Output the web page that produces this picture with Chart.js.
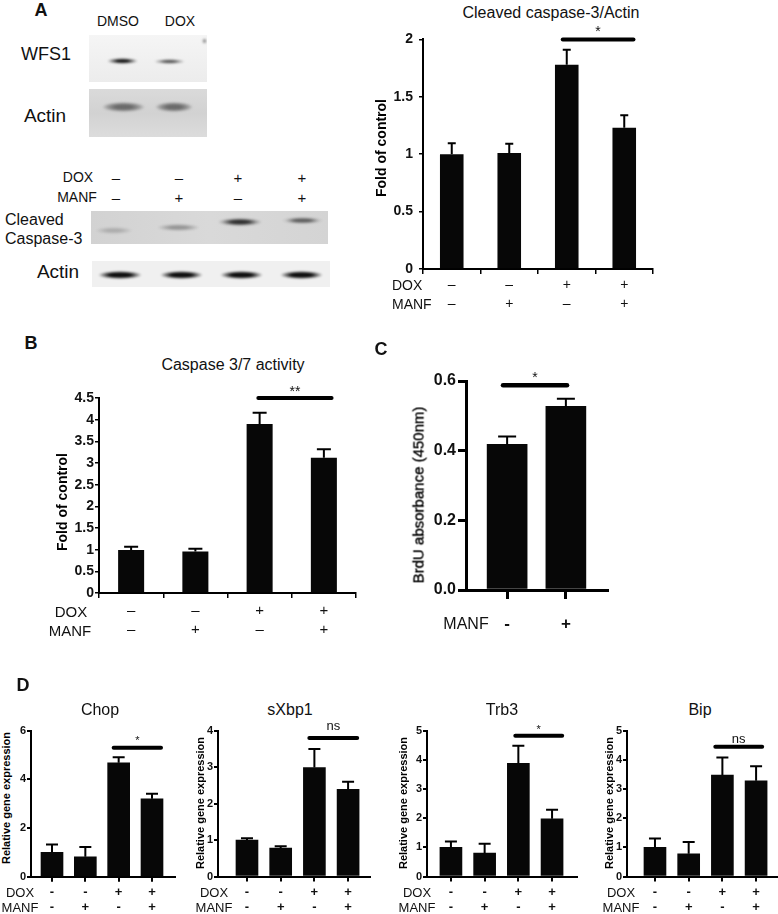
<!DOCTYPE html>
<html>
<head>
<meta charset="utf-8">
<script src="https://cdn.jsdelivr.net/npm/chart.js@4.4.1/dist/chart.umd.min.js"></script>
<style>
  body { margin: 0; background: #fff; width: 778px; height: 914px; position: relative; overflow: hidden;
         font-family: "Liberation Sans", Arial, sans-serif; color: #111; }
  .t { position: absolute; white-space: nowrap; line-height: 1; transform: translate(-50%, -50%); }
  .lt { transform: translate(0, -50%); }
  .v { transform: translate(-50%, -50%) rotate(-90deg); color: #000; }
  .b { font-weight: bold; }
  .thick { -webkit-text-stroke: 0.35px #000; }
  canvas { position: absolute; }
  .blot { position: absolute; overflow: hidden; }
  .band { position: absolute; border-radius: 50%; filter: blur(1.3px); }
</style>
</head>
<body>

<!-- ===== panel A : blots ===== -->
<div class="t b" style="left:41px;top:10px;font-size:18px">A</div>
<div class="t" style="left:118px;top:21px;font-size:14px">DMSO</div>
<div class="t" style="left:180px;top:21px;font-size:14px">DOX</div>
<div class="t" style="left:46px;top:54px;font-size:18px">WFS1</div>
<div class="t" style="left:45px;top:115px;font-size:19px">Actin</div>

<div class="blot" style="left:89px;top:35px;width:118px;height:47px;background:linear-gradient(#f5f5f5,#ececec)">
  <div class="band" style="left:18px;top:23px;width:31px;height:6px;background:radial-gradient(closest-side,#111 35%,rgba(40,40,40,.5) 70%,rgba(0,0,0,0))"></div>
  <div class="band" style="left:65px;top:24px;width:31px;height:5px;background:radial-gradient(closest-side,#555 35%,rgba(80,80,80,.4) 70%,rgba(0,0,0,0))"></div>
  <div class="band" style="left:113px;top:3px;width:5px;height:6px;background:radial-gradient(closest-side,#666,rgba(0,0,0,0))"></div>
</div>
<div class="blot" style="left:89px;top:89px;width:118px;height:48px;background:linear-gradient(#dadada,#d2d2d2 50%,#dcdcdc)">
  <div class="band" style="left:13px;top:13px;width:43px;height:10px;background:radial-gradient(closest-side,#6a6a6a 40%,rgba(100,100,100,.5) 75%,rgba(0,0,0,0))"></div>
  <div class="band" style="left:66px;top:13px;width:38px;height:10px;background:radial-gradient(closest-side,#6a6a6a 40%,rgba(100,100,100,.5) 75%,rgba(0,0,0,0))"></div>
</div>

<div class="t" style="left:78px;top:177px;font-size:14px">DOX</div>
<div class="t" style="left:77px;top:197px;font-size:14px">MANF</div>
<div id="blotSigns"></div>
<div class="t lt" style="left:5px;top:220px;font-size:16px">Cleaved</div>
<div class="t lt" style="left:5px;top:239px;font-size:16px">Caspase-3</div>
<div class="t" style="left:58px;top:271px;font-size:19px">Actin</div>

<div class="blot" style="left:91px;top:211px;width:237px;height:33px;background:linear-gradient(90deg,#d2d2d2,#d9d9d9 50%,#d4d4d4)">
  <div class="band" style="left:4px;top:16px;width:38px;height:7px;background:radial-gradient(closest-side,rgba(0,0,0,.18) 40%,rgba(0,0,0,0))"></div>
  <div class="band" style="left:66px;top:13px;width:43px;height:7px;background:radial-gradient(closest-side,rgba(0,0,0,.3) 40%,rgba(0,0,0,0))"></div>
  <div class="band" style="left:127px;top:7px;width:44px;height:8px;background:radial-gradient(closest-side,rgba(20,20,20,.85) 40%,rgba(0,0,0,.2) 80%,rgba(0,0,0,0))"></div>
  <div class="band" style="left:191px;top:6px;width:41px;height:7px;background:radial-gradient(closest-side,rgba(0,0,0,.55) 40%,rgba(0,0,0,.1) 80%,rgba(0,0,0,0))"></div>
</div>
<div class="blot" style="left:92px;top:261px;width:238px;height:26px;background:#f0f0f0">
  <div class="band" style="left:6px;top:10px;width:44px;height:8px;background:radial-gradient(closest-side,#0d0d0d 50%,rgba(0,0,0,.3) 85%,rgba(0,0,0,0))"></div>
  <div class="band" style="left:68px;top:10px;width:43px;height:8px;background:radial-gradient(closest-side,#0d0d0d 50%,rgba(0,0,0,.3) 85%,rgba(0,0,0,0))"></div>
  <div class="band" style="left:128px;top:10px;width:43px;height:8px;background:radial-gradient(closest-side,#0d0d0d 50%,rgba(0,0,0,.3) 85%,rgba(0,0,0,0))"></div>
  <div class="band" style="left:188px;top:10px;width:43px;height:8px;background:radial-gradient(closest-side,#0d0d0d 50%,rgba(0,0,0,.3) 85%,rgba(0,0,0,0))"></div>
</div>

<!-- ===== panel A : chart ===== -->
<canvas id="chartA"></canvas>
<div class="t" style="left:551px;top:13px;font-size:16px">Cleaved caspase-3/Actin</div>
<div class="t v b" style="left:381px;top:148px;font-size:14px">Fold of control</div>
<div class="t lt" style="left:392px;top:285px;font-size:14px">DOX</div>
<div class="t lt" style="left:392px;top:304px;font-size:14px">MANF</div>

<!-- ===== panel B ===== -->
<canvas id="chartB"></canvas>
<div class="t b" style="left:31px;top:343px;font-size:18px">B</div>
<div class="t" style="left:233px;top:365px;font-size:16px">Caspase 3/7 activity</div>
<div class="t v b" style="left:62px;top:502px;font-size:14px">Fold of control</div>
<div class="t" style="left:71px;top:611px;font-size:15px">DOX</div>
<div class="t" style="left:70px;top:630px;font-size:15px">MANF</div>

<!-- ===== panel C ===== -->
<canvas id="chartC"></canvas>
<div class="t b" style="left:381px;top:349px;font-size:18px">C</div>
<div class="t v thick" style="left:418px;top:495px;font-size:15px">BrdU absorbance (450nm)</div>
<div class="t" style="left:466px;top:624px;font-size:16px">MANF</div>

<!-- ===== panel D ===== -->
<canvas id="chartChop"></canvas>
<canvas id="chartXbp"></canvas>
<canvas id="chartTrb"></canvas>
<canvas id="chartBip"></canvas>
<div class="t b" style="left:23px;top:685px;font-size:18px">D</div>
<div id="dText"></div>

<script>
/* ---------- data ---------- */
const doxSigns  = ["–", "–", "+", "+"];
const manfSigns = ["–", "+", "–", "+"];

// A: cleaved caspase-3 / actin, fold of control
const cleavedMean = [1.0, 1.01, 1.78, 1.23];
const cleavedSem  = [0.095, 0.08, 0.13, 0.11];

// B: caspase 3/7 activity
const caspActMean = [0.99, 0.96, 3.9, 3.12];
const caspActSem  = [0.08, 0.06, 0.26, 0.2];

// C: BrdU absorbance
const brduSigns = ["-", "+"];
const brduMean  = [0.418, 0.527];
const brduSem   = [0.023, 0.022];

// D: relative gene expression
const geneNames = ["Chop", "sXbp1", "Trb3", "Bip"];
const chopMean = [1.0, 0.82, 4.68, 3.2];
const chopSem  = [0.32, 0.4, 0.23, 0.21];
const xbpMean  = [1.0, 0.78, 2.99, 2.39];
const xbpSem   = [0.05, 0.05, 0.51, 0.21];
const trbMean  = [1.0, 0.8, 3.88, 1.98];
const trbSem   = [0.2, 0.32, 0.6, 0.31];
const bipMean  = [1.0, 0.78, 3.48, 3.28];
const bipSem   = [0.3, 0.4, 0.6, 0.5];

// significance bars: group index span + height (data units)
const sigA    = { x0: 1.93, x1: 3.16, y: 2.0,  text: "*"  };
const sigB    = { x0: 1.98, x1: 3.12, y: 4.5,  text: "**" };
const sigC    = { x0: 0.93, x1: 2.02, y: 0.588, text: "*" };
const sigChop = { x0: 2.85, x1: 4.27, y: 5.3,  text: "*"  };
const sigXbp  = { x0: 2.85, x1: 4.27, y: 3.8,  text: "ns" };
const sigTrb  = { x0: 2.91, x1: 4.3,  y: 4.83, text: "*"  };
const sigBip  = { x0: 2.79, x1: 4.18, y: 4.45, text: "ns" };

const FONT = '"Liberation Sans", Arial, sans-serif';
const plainNum = v => String(Math.round(v * 100) / 100);

/* ---------- error bars + significance line ---------- */
const annotPlugin = {
    id: "annot",
    afterDatasetsDraw(chart, args, o) {
        const { ctx, scales: { x, y } } = chart;
        const meta = chart.getDatasetMeta(0);
        ctx.save();
        ctx.strokeStyle = "#000";
        ctx.lineWidth = o.errW;
        meta.data.forEach((bar, i) => {
            const top = y.getPixelForValue(o.mean[i] + o.sem[i]);
            ctx.beginPath();
            ctx.moveTo(bar.x, bar.y);
            ctx.lineTo(bar.x, top);
            ctx.moveTo(bar.x - o.cap / 2, top);
            ctx.lineTo(bar.x + o.cap / 2, top);
            ctx.stroke();
        });
        const s = o.sig;
        const sy = y.getPixelForValue(s.y);
        const x0 = x.getPixelForValue(s.x0), x1 = x.getPixelForValue(s.x1);
        ctx.lineWidth = o.sigW;
        ctx.lineCap = "round";
        ctx.beginPath();
        ctx.moveTo(x0, sy);
        ctx.lineTo(x1, sy);
        ctx.stroke();
        ctx.fillStyle = "#111";
        ctx.font = o.sigFont;
        ctx.textAlign = "center";
        ctx.textBaseline = "alphabetic";
        ctx.fillText(s.text, (x0 + x1) / 2, sy - o.sigGap);
        ctx.restore();
    }
};

/* ---------- one bar panel ---------- */
function barPanel(id, o) {
    const cv = document.getElementById(id);
    const b = o.box, a = o.area;
    cv.width = b.w; cv.height = b.h;
    cv.style.left = b.x + "px"; cv.style.top = b.y + "px";
    const yW = a.l - b.x, xH = b.y + b.h - a.b;
    const linear = o.xMin !== undefined;
    const tickText = i => o.rows.map(r => r[i]);

    const xCommon = {
        ticks: { font: o.xFont, color: "#111", padding: o.xPad, autoSkip: false, maxRotation: 0 },
        grid: { drawOnChartArea: false, tickLength: o.xTick, color: "#000", lineWidth: o.tickW },
        border: { color: "#000", width: o.axisW },
        afterFit: s => { s.height = xH; }
    };
    const xScale = linear
        ? { ...xCommon, type: "linear", min: o.xMin, max: o.xMax, offset: false,
            afterBuildTicks: s => { s.ticks = o.mean.map((_, i) => ({ value: i + 1 })); },
            ticks: { ...xCommon.ticks, callback: v => tickText(v - 1) },
            grid: { ...xCommon.grid, offset: false } }
        : { ...xCommon, type: "category", offset: true,
            grid: { ...xCommon.grid, offset: true } };

    new Chart(cv, {
        type: "bar",
        data: {
            labels: o.mean.map((_, i) => tickText(i)),
            datasets: [{
                data: linear ? o.mean.map((v, i) => ({ x: i + 1, y: v })) : o.mean,
                backgroundColor: "#070707",
                borderWidth: 0,
                categoryPercentage: 1,
                barPercentage: o.barPct || 0.9,
                barThickness: o.barPx
            }]
        },
        options: {
            responsive: false,
            animation: false,
            devicePixelRatio: 1,
            layout: { padding: { left: 0, top: a.t - b.y, right: b.x + b.w - a.r, bottom: 0 } },
            plugins: {
                legend: { display: false },
                tooltip: { enabled: false },
                annot: { mean: o.mean, sem: o.sem, sig: o.sig, cap: o.cap, errW: o.errW,
                         sigW: o.sigW, sigFont: o.sigFont, sigGap: o.sigGap }
            },
            scales: {
                x: xScale,
                y: {
                    min: 0, max: o.yMax,
                    ticks: { stepSize: o.yStep, font: o.yFont, color: "#111", padding: o.yPad,
                             callback: o.yFmt || plainNum },
                    grid: { drawOnChartArea: false, tickLength: o.yTick, color: "#000", lineWidth: o.tickW },
                    border: { color: "#000", width: o.axisW },
                    afterFit: s => { s.width = yW; }
                }
            }
        },
        plugins: [annotPlugin]
    });
}

/* ---------- panel A ---------- */
barPanel("chartA", {
    box: { x: 380, y: 25, w: 285, h: 290 }, area: { l: 423, t: 37, r: 653, b: 269 },
    rows: [doxSigns, manfSigns], mean: cleavedMean, sem: cleavedSem, sig: sigA,
    yMax: 2, yStep: 0.5, yFont: { family: FONT, size: 14, weight: "bold" }, yTick: 4, yPad: 6,
    xFont: { family: FONT, size: 14, lineHeight: 19 / 14 }, xTick: 5, xPad: 2,
    barPct: 0.41, cap: 8, errW: 2, tickW: 1.5, axisW: 2,
    sigW: 4, sigFont: "14px " + FONT, sigGap: 3
});

/* ---------- panel B ---------- */
barPanel("chartB", {
    box: { x: 52, y: 385, w: 318, h: 260 }, area: { l: 99, t: 398, r: 356, b: 593 },
    rows: [doxSigns, manfSigns], mean: caspActMean, sem: caspActSem, sig: sigB,
    yMax: 4.5, yStep: 0.5, yFont: { family: FONT, size: 14, weight: "bold" }, yTick: 4, yPad: 1,
    xFont: { family: FONT, size: 15, lineHeight: 19 / 15 }, xTick: 5, xPad: 3,
    barPct: 0.405, cap: 14, errW: 2, tickW: 1.5, axisW: 2,
    sigW: 4, sigFont: "14px " + FONT, sigGap: 2
});

/* ---------- panel C ---------- */
barPanel("chartC", {
    box: { x: 420, y: 365, w: 215, h: 275 }, area: { l: 466, t: 381, r: 607, b: 590 },
    rows: [brduSigns], mean: brduMean, sem: brduSem, sig: sigC,
    xMin: 0.3, xMax: 2.7,
    yMax: 0.6, yStep: 0.2, yFmt: v => v.toFixed(1),
    yFont: { family: FONT, size: 16, weight: "bold" }, yTick: 8, yPad: 2,
    xFont: { family: FONT, size: 17, weight: "bold", lineHeight: 1.2 }, xTick: 9, xPad: 15,
    barPx: 40, cap: 18, errW: 2, tickW: 3, axisW: 3,
    sigW: 4.5, sigFont: "14px " + FONT, sigGap: 3
});

/* ---------- panel D ---------- */
const dPanels = [
    { id: "chartChop", mean: chopMean, sem: chopSem, sig: sigChop, yMax: 6, yStep: 2,
      box: { x: 12, y: 718, w: 175, h: 196 }, area: { l: 31, t: 730.7, r: 175, b: 876.7 },
      xMin: 0.37, xMax: 4.69, title: 100, ylab: [6, 798], rowx: 20, gap: 4 },
    { id: "chartXbp", mean: xbpMean, sem: xbpSem, sig: sigXbp, yMax: 4, yStep: 1,
      box: { x: 198, y: 718, w: 185, h: 196 }, area: { l: 218, t: 730.7, r: 370, b: 876.5 },
      xMin: 0.14, xMax: 4.65, title: 290, ylab: [200, 803], rowx: 214, gap: 8 },
    { id: "chartTrb", mean: trbMean, sem: trbSem, sig: sigTrb, yMax: 5, yStep: 1,
      box: { x: 407, y: 718, w: 182, h: 196 }, area: { l: 427, t: 730.7, r: 577, b: 876.5 },
      xMin: 0.29, xMax: 4.74, title: 502, ylab: [403, 803], rowx: 417, gap: 3 },
    { id: "chartBip", mean: bipMean, sem: bipSem, sig: sigBip, yMax: 5, yStep: 1,
      box: { x: 607, y: 718, w: 171, h: 196 }, area: { l: 627, t: 730.7, r: 778, b: 876.5 },
      xMin: 0.17, xMax: 4.65, title: 700, ylab: [609, 803], rowx: 621, gap: 4 }
];

const hy = s => s.replace("–", "-");
let dHtml = "";
dPanels.forEach((p, k) => {
    barPanel(p.id, {
        box: p.box, area: p.area,
        rows: [doxSigns.map(hy), manfSigns.map(hy)], mean: p.mean, sem: p.sem, sig: p.sig,
        xMin: p.xMin, xMax: p.xMax, yMax: p.yMax, yStep: p.yStep,
        yFont: { family: FONT, size: 11, weight: "bold" }, yTick: 4, yPad: 1,
        xFont: { family: FONT, size: 13, weight: "bold", lineHeight: 15 / 13 }, xTick: 5, xPad: 3,
        barPx: 22, cap: 12, errW: 2, tickW: 2, axisW: 2,
        sigW: 4, sigFont: (p.sig.text === "ns" ? "13px " : "11px ") + FONT, sigGap: p.gap
    });
    dHtml += `<div class="t" style="left:${p.title}px;top:710px;font-size:16px">${geneNames[k]}</div>`;
    dHtml += `<div class="t v b" style="left:${p.ylab[0]}px;top:${p.ylab[1]}px;font-size:11px">Relative gene expression</div>`;
    dHtml += `<div class="t" style="left:${p.rowx}px;top:892px;font-size:13px">DOX</div>`;
    dHtml += `<div class="t" style="left:${p.rowx}px;top:907px;font-size:13px">MANF</div>`;
});
document.getElementById("dText").innerHTML = dHtml;

/* ---------- sign rows above the blot ---------- */
const blotLaneX = [116, 179, 238, 302];
let sHtml = "";
blotLaneX.forEach((x, i) => {
    sHtml += `<div class="t" style="left:${x}px;top:177px;font-size:15px">${doxSigns[i]}</div>`;
    sHtml += `<div class="t" style="left:${x}px;top:197px;font-size:15px">${manfSigns[i]}</div>`;
});
document.getElementById("blotSigns").innerHTML = sHtml;
</script>
</body>
</html>
